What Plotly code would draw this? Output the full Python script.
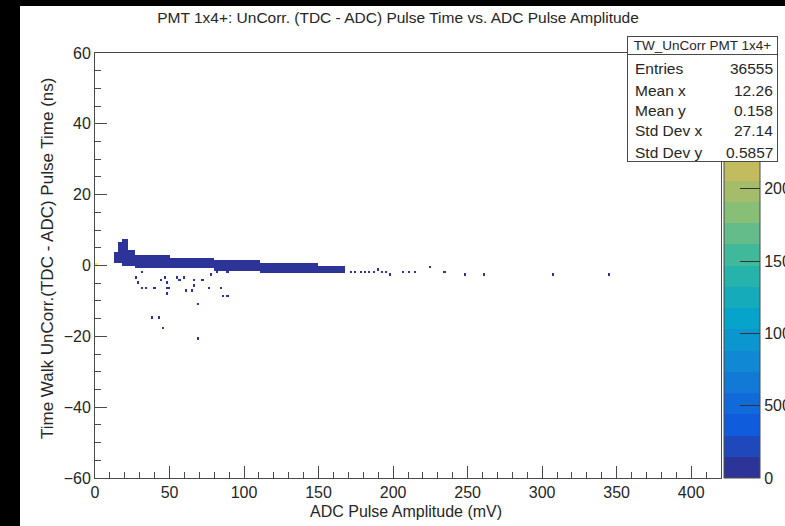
import numpy as np
import plotly.graph_objects as go

# ---------------- data ----------------
# dense band of the 2D histogram: x-range (mV), y-range (ns), counts per bin
band_x_lo = [12, 15, 18, 23, 26, 50, 80, 110, 150]
band_x_hi = [15, 18, 23, 26, 50, 80, 110, 150, 168]
band_y_lo = [0.5, 0.5, 0.0, 0.0, -0.6, -1.0, -1.8, -2.6, -2.6]
band_y_hi = [4.0, 6.5, 7.5, 4.5, 2.8, 2.3, 1.2, 0.8, -0.3]
band_n = [60, 80, 90, 70, 60, 40, 25, 12, 5]

# isolated bins (x mV, y ns, counts)
pts_x = [0.5, 28, 31, 28.5, 31, 34, 40, 44, 47.5, 48.5, 48.5, 50, 48, 55, 56.5, 59, 61, 65,
         67, 67, 71.5, 70, 76, 77.5, 84.5, 86.5, 89, 38, 43, 46, 69.5, 82, 89,
         172, 175, 178, 181, 184, 187, 190, 192, 196, 198, 207, 211, 215, 225, 235,
         249, 261, 307, 345]
pts_y = [0.2, -3.5, -2.0, -4.9, -6.5, -6.5, -6.5, -4.4, -3.3, -4.9, -6.5, -6.5, -8.2, -3.3,
         -4.4, -3.3, -7.0, -7.2, -4.4, -5.3, -4.4, -10.5, -6.6, -2.5, -6.5, -8.5, -8.5,
         -14.5, -14.5, -17.6, -20.4, -2.0, -2.0,
         -1.5, -2.0, -1.5, -2.0, -1.5, -2.0, -1.0, -2.0, -1.5, -2.5, -2.0, -2.0, -2.0,
         -0.6, -1.6, -2.3, -2.3, -2.3, -2.3]
pts_n = [2900] + [1] * 51

stats_labels = ["Entries", "Mean x", "Mean y", "Std Dev x", "Std Dev y"]
stats_values = ["36555", "12.26", "0.158", "27.14", "0.5857"]
stats_title = "TW_UnCorr PMT 1x4+"

cbar_ticks = [0, 500, 1000, 1500, 2000]
z_max = 2940

# ---------------- histogram grid ----------------
x_edges = np.linspace(0, 420, 301)
y_edges = np.linspace(-60, 60, 161)
xc = 0.5 * (x_edges[:-1] + x_edges[1:])
yc = 0.5 * (y_edges[:-1] + y_edges[1:])
Z = np.full((len(yc), len(xc)), np.nan)

for x0, x1, y0, y1, n in zip(band_x_lo, band_x_hi, band_y_lo, band_y_hi, band_n):
    mx = (xc >= x0) & (xc < x1)
    my = (yc >= y0) & (yc < y1)
    Z[np.ix_(my, mx)] = n

for x, y, n in zip(pts_x, pts_y, pts_n):
    i = np.searchsorted(y_edges, y) - 1
    j = np.searchsorted(x_edges, x) - 1
    Z[i, j] = n if np.isnan(Z[i, j]) else Z[i, j] + n

z_list = [[None if np.isnan(v) else float(v) for v in row] for row in Z]

# ROOT kBird palette, 20 discrete contours
stops = [0.0, 0.125, 0.25, 0.375, 0.5, 0.625, 0.75, 0.875, 1.0]
red = [0.2082, 0.0592, 0.0780, 0.0232, 0.1802, 0.5301, 0.8186, 0.9956, 0.9764]
green = [0.1664, 0.3599, 0.5041, 0.6419, 0.7178, 0.7492, 0.7328, 0.7862, 0.9832]
blue = [0.5293, 0.8684, 0.8385, 0.7914, 0.6425, 0.4662, 0.3499, 0.1968, 0.0539]
nlev = 20
cscale = []
for k in range(nlev):
    t = (k + 0.5) / nlev
    r = np.interp(t, stops, red); g = np.interp(t, stops, green); b = np.interp(t, stops, blue)
    c = "rgb(%d,%d,%d)" % (round(r * 255), round(g * 255), round(b * 255))
    cscale.append([k / nlev, c])
    cscale.append([(k + 1) / nlev, c])

# ---------------- layout geometry ----------------
W, H = 785, 526
L, R, T, B = 95, 721, 53, 478
PW, PH = R - L, B - T


def fx(px):
    return (px - L) / PW


def fy(py):
    return (B - py) / PH


FONT = "Liberation Sans, Arial, sans-serif"
TXT = "#262626"
AX = "#4a4a4a"

fig = go.Figure()
fig.add_trace(go.Heatmap(
    x=xc, y=yc, z=z_list, zmin=0, zmax=z_max, colorscale=cscale,
    hoverinfo="skip", zsmooth=False,
    colorbar=dict(
        x=fx(724), xanchor="left", y=0.5, yanchor="middle", len=1, lenmode="fraction",
        thickness=36, thicknessmode="pixels", xpad=0, ypad=0,
        outlinewidth=1, outlinecolor=AX,
        tickmode="array", tickvals=cbar_ticks, ticktext=[str(v) for v in cbar_ticks],
        ticks="inside", ticklen=20, tickcolor="#333", tickwidth=1,
        tickfont=dict(family=FONT, size=16, color=TXT),
    ),
))

shapes = [
    # black frame of the screenshot
    dict(type="rect", xref="paper", yref="paper", x0=fx(-10), x1=fx(20), y0=fy(540), y1=fy(-10),
         fillcolor="black", line=dict(width=0), layer="above"),
    dict(type="rect", xref="paper", yref="paper", x0=fx(-10), x1=fx(800), y0=fy(6), y1=fy(-10),
         fillcolor="black", line=dict(width=0), layer="above"),
]

# stats box (annotations so it sits above the colour bar)
bx0, bx1, by0, by1, hy = 627, 778, 36, 162, 55
ann = [
    dict(text="", x=fx((bx0 + bx1) / 2), y=fy((by0 + by1) / 2), xref="paper", yref="paper",
         showarrow=False, xanchor="center", yanchor="middle", width=bx1 - bx0 - 2,
         height=by1 - by0 - 2, bgcolor="white", bordercolor=AX, borderwidth=1, borderpad=0),
    dict(text=stats_title, x=fx((bx0 + bx1) / 2), y=fy((by0 + hy) / 2), xref="paper", yref="paper",
         showarrow=False, xanchor="center", yanchor="middle", width=bx1 - bx0 - 2,
         height=hy - by0 - 2, bgcolor="white", bordercolor=AX, borderwidth=1, borderpad=0,
         font=dict(family=FONT, size=13.5, color=TXT)),
    dict(text="ADC Pulse Amplitude (mV)", x=fx(406), y=fy(511), xref="paper", yref="paper",
         showarrow=False, xanchor="center", yanchor="middle", font=dict(family=FONT, size=16, color=TXT)),
    dict(text="Time Walk UnCorr.(TDC - ADC) Pulse Time (ns)", x=fx(47), y=fy(259), xref="paper",
         yref="paper", showarrow=False, textangle=-90, xanchor="center", yanchor="middle",
         font=dict(family=FONT, size=17, color=TXT)),
]
row_y = [69, 90, 110, 131, 152]
for lab, val, yy in zip(stats_labels, stats_values, row_y):
    ann.append(dict(text=lab, x=fx(633), y=fy(yy), xref="paper", yref="paper", showarrow=False,
                    xanchor="left", yanchor="middle", font=dict(family=FONT, size=15.5, color=TXT)))
    ann.append(dict(text=val, x=fx(775), y=fy(yy), xref="paper", yref="paper", showarrow=False,
                    xanchor="right", yanchor="middle", font=dict(family=FONT, size=15.5, color=TXT)))

fig.update_layout(
    width=W, height=H,
    margin=dict(l=L, r=W - R, t=T, b=H - B, pad=0, autoexpand=False),
    paper_bgcolor="white", plot_bgcolor="white",
    title=dict(text="PMT 1x4+: UnCorr. (TDC - ADC) Pulse Time vs. ADC Pulse Amplitude",
               x=398 / W, y=1 - 18 / H, xanchor="center", yanchor="middle", xref="container",
               yref="container", font=dict(family=FONT, size=15.5, color=TXT)),
    showlegend=False,
    shapes=shapes,
    annotations=ann,
    xaxis=dict(range=[0, 420], tick0=0, dtick=50, ticks="inside", ticklen=12, tickcolor=AX,
               showline=True, linecolor=AX, linewidth=1, mirror=True, showgrid=False, zeroline=False,
               tickfont=dict(family=FONT, size=16, color=TXT),
               minor=dict(dtick=10, ticks="inside", ticklen=6, tickcolor=AX, showgrid=False)),
    yaxis=dict(range=[-60, 60], tick0=0, dtick=20, ticks="inside", ticklen=12, tickcolor=AX,
               showline=True, linecolor=AX, linewidth=1, mirror=True, showgrid=False, zeroline=False,
               tickfont=dict(family=FONT, size=16, color=TXT),
               minor=dict(dtick=5, ticks="inside", ticklen=6, tickcolor=AX, showgrid=False)),
)

fig.write_html("out.html", config={"displayModeBar": False},
               post_script="document.body.style.margin='0';document.body.style.overflow='hidden';")
